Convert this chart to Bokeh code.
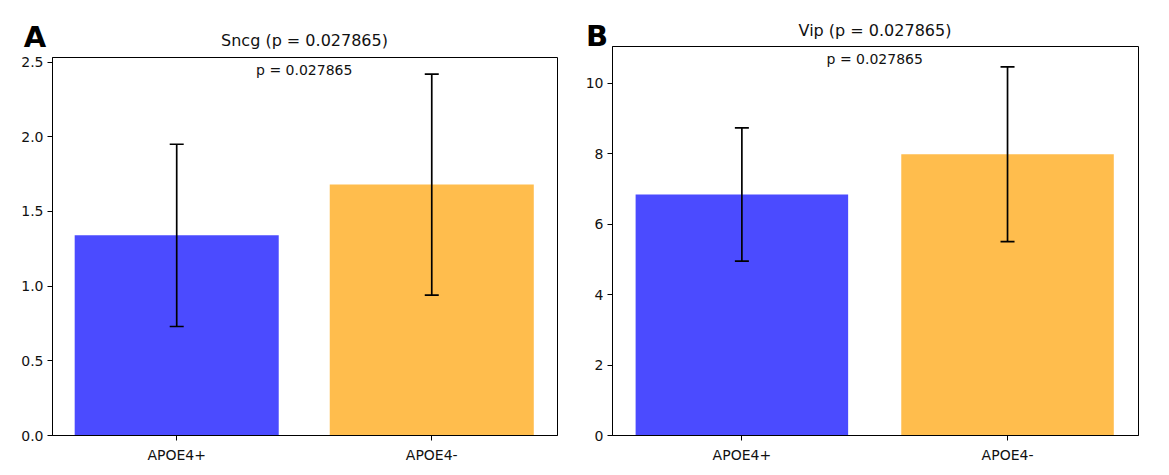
from bokeh.plotting import figure
from bokeh.models import ColumnDataSource, Range1d, FixedTicker, Whisker, TeeHead, Div
from bokeh.layouts import row, column
from bokeh.core.properties import value
from bokeh.embed import file_html
from bokeh.resources import INLINE

groups = ["APOE4+", "APOE4-"]
colors = ["#4B4BFF", "#FFBD4D"]
p_value = "0.027865"

panel_letters = ["A", "B"]
genes = ["Sncg", "Vip"]
means = [[1.34, 1.68], [6.84, 7.98]]
errors = [[0.61, 0.74], [1.89, 2.48]]
y_tops = [2.531, 11.04]
y_ticks = [[0.0, 0.5, 1.0, 1.5, 2.0, 2.5], [0, 2, 4, 6, 8, 10]]
y_tick_labels = [["0.0", "0.5", "1.0", "1.5", "2.0", "2.5"], ["0", "2", "4", "6", "8", "10"]]

FONT = "DejaVu Sans"
ASC = 0.846  # baseline offset below span top (line-height 1em) for DejaVu Sans


def make_header(i, width, height, letter_cx, letter_base, title_cx, title_base):
    lf, tf = 29, 16
    html = (
        f'<div style="position:relative;width:{width}px;height:{height}px;'
        f"font-family:'{FONT}';color:#000;overflow:visible;\">"
        f'<span style="position:absolute;left:{letter_cx - 40}px;width:80px;text-align:center;'
        f'top:{letter_base - ASC * lf:.1f}px;font-size:{lf}px;line-height:{lf}px;font-weight:bold;'
        f'white-space:nowrap;">{panel_letters[i]}</span>'
        f'<span style="position:absolute;left:{title_cx - 200}px;width:400px;text-align:center;'
        f'top:{title_base - ASC * tf:.1f}px;font-size:{tf}px;line-height:{tf}px;color:#111;'
        f'white-space:nowrap;">{genes[i]} (p = {p_value})</span>'
        f'</div>'
    )
    return Div(text=html, width=width, height=height, margin=(0, 0, 0, 0))


def make_panel(i, width, height, bl, br, bt, bb):
    xs = list(range(len(groups)))
    m = means[i]
    e = errors[i]
    src = ColumnDataSource(dict(x=xs, top=m, lower=[a - b for a, b in zip(m, e)],
                                upper=[a + b for a, b in zip(m, e)], color=colors))
    p = figure(width=width, height=height, output_backend="svg", toolbar_location=None,
               x_range=Range1d(-0.487, 1.493), y_range=Range1d(0, y_tops[i]),
               min_border_left=bl, min_border_right=br, min_border_top=bt, min_border_bottom=bb)
    p.vbar(x="x", top="top", width=0.8, color="color", line_color=None, source=src)
    w = Whisker(base="x", upper="upper", lower="lower", source=src, level="overlay",
                line_color="black", line_width=1.7,
                upper_head=TeeHead(size=14, line_color="black", line_width=1.7),
                lower_head=TeeHead(size=14, line_color="black", line_width=1.7))
    p.add_layout(w)
    p.xgrid.visible = False
    p.ygrid.visible = False
    p.outline_line_color = "black"
    p.outline_line_width = 1
    p.outline_line_alpha = 1
    p.xaxis.ticker = FixedTicker(ticks=xs)
    p.xaxis.major_label_overrides = {x: g for x, g in zip(xs, groups)}
    p.yaxis.ticker = FixedTicker(ticks=y_ticks[i])
    p.yaxis.major_label_overrides = {t: l for t, l in zip(y_ticks[i], y_tick_labels[i])}
    for ax in (p.xaxis[0], p.yaxis[0]):
        ax.minor_tick_line_color = None
        ax.major_tick_in = 0
        ax.major_tick_out = 5
        ax.major_tick_line_color = "black"
        ax.axis_line_color = "black"
        ax.major_label_text_font = FONT
        ax.major_label_text_font_size = "14px"
        ax.major_label_text_color = "#111111"
        ax.major_label_standoff = 4
    p.xaxis[0].major_label_standoff = 6
    # in-plot p-value annotation near the top of the axes
    p.text(x=[0.5], y=[0.968 * y_tops[i]], text=[f"p = {p_value}"], text_font=value(FONT),
           text_font_size="14px", text_align="center", text_baseline="alphabetic",
           text_color="#111111")
    return p


# panel A: axes box x 52..557, y 57..435
wa, bla, bra = 580, 52, 23
ha_head = 52
pa = make_panel(0, wa, 467 - ha_head, bla, bra, 5, 32)
hA = make_header(0, wa, ha_head, 35, 47.0, bla + (wa - bla - bra) / 2, 46.7)

# panel B: axes box x 612..1138, y 46..435
wb, blb, brb = 575, 32, 17
hb_head = 46
pb = make_panel(1, wb, 467 - hb_head, blb, brb, 0, 32)
hB = make_header(1, wb, hb_head, 17, 46.0, blb + (wb - blb - brb) / 2, 36.7)

layout = row(column(hA, pa), column(hB, pb))
open("out.html", "w").write(file_html(layout, INLINE))
